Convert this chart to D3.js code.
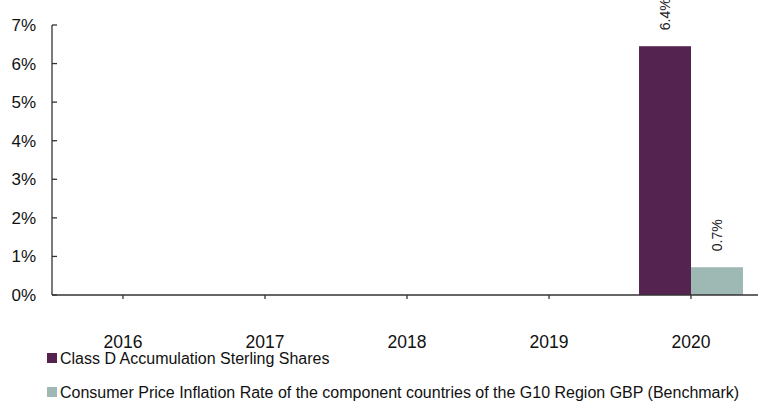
<!DOCTYPE html>
<html>
<head>
<meta charset="utf-8">
<script src="https://cdn.jsdelivr.net/npm/d3@7"></script>
<style>
    body { margin: 0; background: #fff; }
    svg { display: block; font-family: "Liberation Sans", Arial, sans-serif; }
</style>
</head>
<body>
<svg id="chart" width="758" height="402"></svg>
<script>
// Chart data
const years = ["2016", "2017", "2018", "2019", "2020"];
const seriesNames = [
    "Class D Accumulation Sterling Shares",
    "Consumer Price Inflation Rate of the component countries of the G10 Region GBP (Benchmark)"
];
const fundValues = [null, null, null, null, 6.45];
const benchmarkValues = [null, null, null, null, 0.72];
const valueLabels = [[null, null, null, null, "6.4%"], [null, null, null, null, "0.7%"]];
const yTicks = [0, 1, 2, 3, 4, 5, 6, 7];
const colors = ["#55234f", "#9eb8b4"];

const svg = d3.select("#chart");
const axisColor = "#333";

// Scales
const x = d3.scaleBand().domain(years).range([52, 762]);
const groupWidth = x.bandwidth() * 0.732;
const xInner = d3.scaleBand().domain(seriesNames).range([-groupWidth / 2, groupWidth / 2]);
const y = d3.scaleLinear().domain([0, 7]).range([295, 25]);

// Bars
const allSeries = [fundValues, benchmarkValues];
allSeries.forEach((values, si) => {
    const data = years.map((yr, i) => ({ year: yr, value: values[i], label: valueLabels[si][i] }))
        .filter(d => d.value != null);

    svg.append("g")
        .selectAll("rect")
        .data(data)
        .join("rect")
        .attr("x", d => x(d.year) + x.bandwidth() / 2 + xInner(seriesNames[si]))
        .attr("y", d => y(d.value))
        .attr("width", xInner.bandwidth())
        .attr("height", d => y(0) - y(d.value))
        .attr("fill", colors[si]);

    // Rotated value labels
    svg.append("g")
        .selectAll("text")
        .data(data)
        .join("text")
        .attr("transform", d => {
            const cx = x(d.year) + x.bandwidth() / 2 + xInner(seriesNames[si]) + xInner.bandwidth() / 2;
            const cy = y(d.value) - 16;
            return `translate(${cx},${cy}) rotate(-90)`;
        })
        .attr("dy", "0.35em")
        .attr("font-size", "14px")
        .attr("fill", "#222")
        .text(d => d.label);
});

// Y axis
const yAxis = svg.append("g");
yAxis.append("line")
    .attr("x1", 52).attr("x2", 52)
    .attr("y1", y(7)).attr("y2", y(0))
    .attr("stroke", axisColor).attr("stroke-width", 1.3);
yAxis.selectAll("line.tick")
    .data(yTicks)
    .join("line")
    .attr("class", "tick")
    .attr("x1", 52).attr("x2", 57)
    .attr("y1", d => y(d)).attr("y2", d => y(d))
    .attr("stroke", axisColor).attr("stroke-width", 1.3);
yAxis.selectAll("text")
    .data(yTicks)
    .join("text")
    .attr("x", 36)
    .attr("y", d => y(d))
    .attr("dy", "0.35em")
    .attr("text-anchor", "end")
    .attr("font-size", "17px")
    .attr("fill", "#111")
    .text(d => d + "%");

// X axis
const xAxis = svg.append("g");
xAxis.append("line")
    .attr("x1", 52).attr("x2", 758)
    .attr("y1", y(0)).attr("y2", y(0))
    .attr("stroke", axisColor).attr("stroke-width", 1.3);
xAxis.selectAll("line.tick")
    .data(years)
    .join("line")
    .attr("class", "tick")
    .attr("x1", d => x(d) + x.bandwidth() / 2).attr("x2", d => x(d) + x.bandwidth() / 2)
    .attr("y1", y(0)).attr("y2", y(0) + 4)
    .attr("stroke", axisColor).attr("stroke-width", 1.3);
xAxis.selectAll("text")
    .data(years)
    .join("text")
    .attr("x", d => x(d) + x.bandwidth() / 2)
    .attr("y", 348)
    .attr("text-anchor", "middle")
    .attr("font-size", "17.5px")
    .attr("fill", "#111")
    .text(d => d);

// Legend
const legend = svg.append("g")
    .selectAll("g")
    .data(seriesNames)
    .join("g")
    .attr("transform", (d, i) => `translate(47,${358 + i * 34})`);
legend.append("rect")
    .attr("x", 0).attr("y", -5)
    .attr("width", 10).attr("height", 10)
    .attr("fill", (d, i) => colors[i]);
legend.append("text")
    .attr("x", 13)
    .attr("dy", "0.35em")
    .attr("font-size", "16px")
    .attr("fill", "#111")
    .text(d => d);
</script>
</body>
</html>
